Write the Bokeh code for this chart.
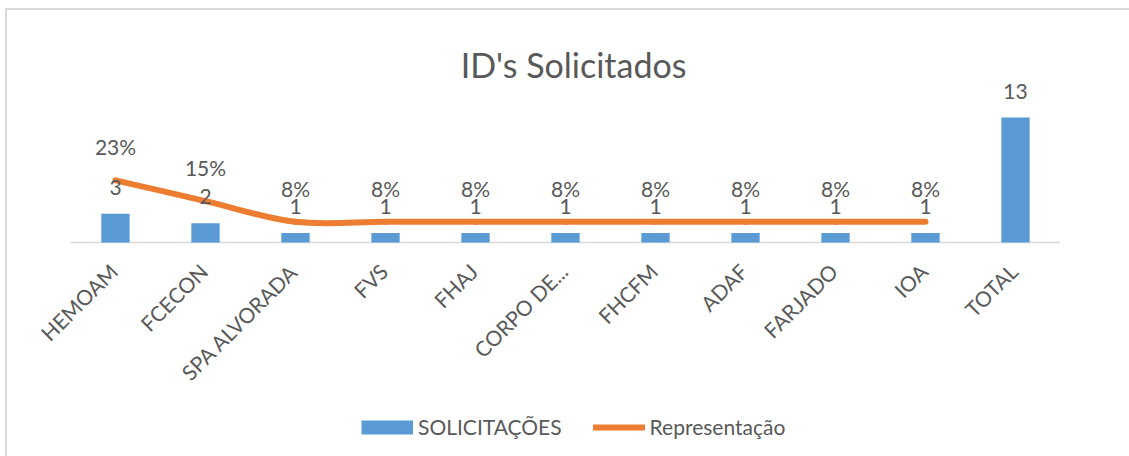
import math
from bokeh.plotting import figure
from bokeh.models import (Range1d, ColumnDataSource, LabelSet, Label,
                          Legend, LegendItem)
from bokeh.embed import file_html
from bokeh.resources import INLINE
from bokeh.core.properties import value

# ---------------- data ----------------
categories = ["HEMOAM", "FCECON", "SPA ALVORADA", "FVS", "FHAJ", "CORPO DE...",
              "FHCFM", "ADAF", "FARJADO", "IOA", "TOTAL"]
solicitacoes = [3, 2, 1, 1, 1, 1, 1, 1, 1, 1, 13]
representacao = [0.2308, 0.1538, 0.0769, 0.0769, 0.0769, 0.0769, 0.0769, 0.0769, 0.0769, 0.0769]
rep_labels = ["23%", "15%", "8%", "8%", "8%", "8%", "8%", "8%", "8%", "8%"]
title_text = "ID's Solicitados"
legend_labels = ["SOLICITAÇÕES", "Representação"]

FONT = "Lato"
TXT = "#595959"
BLUE = "#5B9BD5"
ORANGE = "#ED7D31"
NAN = float("nan")

xs = [i + 0.5 for i in range(len(categories))]

p = figure(frame_width=1053, frame_height=446,
           min_border_left=0, min_border_right=69, min_border_top=0, min_border_bottom=0,
           x_range=Range1d(-0.7, len(categories)), y_range=Range1d(-22.26, 24.13),
           x_axis_location=None, y_axis_location=None,
           output_backend="svg", toolbar_location=None)
p.extra_y_ranges = {"pct": Range1d(-0.795, 0.862)}
p.styles = {"border-top": "2px solid #d9d9d9", "border-left": "2px solid #d9d9d9",
            "margin-top": "8px", "margin-left": "5px"}

p.background_fill_color = "white"
p.border_fill_color = "white"
p.outline_line_color = None
p.grid.visible = False

# category axis line (baseline of the bars)
p.segment(x0=[0], y0=[0], x1=[len(categories)], y1=[0], line_color="#d9d9d9", line_width=1.5)

# bars
bar_src = ColumnDataSource(dict(x=xs, top=solicitacoes, lab=[str(v) for v in solicitacoes]))
bars = p.vbar(x="x", top="top", bottom=0, width=0.315, source=bar_src,
              fill_color=BLUE, line_color=None)

# smooth line (Catmull-Rom style bezier segments through the data points)
lx = xs[:len(representacao)]
ly = representacao
n = len(lx)
x0s, y0s, x1s, y1s, cx0, cy0, cx1, cy1 = [], [], [], [], [], [], [], []
for i in range(n - 1):
    pm = i - 1 if i > 0 else i
    pp = i + 2 if i + 2 < n else i + 1
    x0s.append(lx[i]); y0s.append(ly[i])
    x1s.append(lx[i + 1]); y1s.append(ly[i + 1])
    cx0.append(lx[i] + (lx[i + 1] - lx[pm]) / 6.0)
    cy0.append(ly[i] + (ly[i + 1] - ly[pm]) / 6.0)
    cx1.append(lx[i + 1] - (lx[pp] - lx[i]) / 6.0)
    cy1.append(ly[i + 1] - (ly[pp] - ly[i]) / 6.0)
bz_src = ColumnDataSource(dict(x0=x0s, y0=y0s, x1=x1s, y1=y1s, cx0=cx0, cy0=cy0, cx1=cx1, cy1=cy1))
p.bezier(x0="x0", y0="y0", x1="x1", y1="y1", cx0="cx0", cy0="cy0", cx1="cx1", cy1="cy1",
         source=bz_src, line_color=ORANGE, line_width=6, line_cap="round",
         y_range_name="pct")

# legend proxies (one NaN point: nothing drawn in the plot, only the legend swatch)
legend_bar = p.line(x=[NAN], y=[NAN], line_color=BLUE, line_width=14, line_cap="butt")
legend_line = p.line(x=[NAN], y=[NAN], line_color=ORANGE, line_width=6, line_cap="round",
                     y_range_name="pct")

# data labels
p.add_layout(LabelSet(x="x", y="top", text="lab", source=bar_src, y_offset=19,
                      text_align="center", text_baseline="alphabetic",
                      text_font=value(FONT), text_font_size="21px", text_color=TXT))
pct_src = ColumnDataSource(dict(x=lx, y=ly, lab=rep_labels))
p.add_layout(LabelSet(x="x", y="y", text="lab", source=pct_src, y_offset=25,
                      y_range_name="pct",
                      text_align="center", text_baseline="alphabetic",
                      text_font=value(FONT), text_font_size="21px", text_color=TXT))

# category labels, rotated 45 degrees under the baseline
cat_src = ColumnDataSource(dict(x=xs, y=[-2.59] * len(xs), lab=categories))
p.text(x="x", y="y", text="lab", source=cat_src, angle=math.pi / 4, x_offset=-2,
       text_align="right", text_baseline="middle",
       text_font=value(FONT), text_font_size="21px", text_color=TXT)

# title
p.add_layout(Label(x=5.59, y=18.5, text=title_text, text_align="center",
                   text_baseline="alphabetic", text_font=FONT, text_font_size="34px",
                   text_color=TXT))

# legend
lg = Legend(items=[LegendItem(label=legend_labels[0], renderers=[legend_bar]),
                   LegendItem(label=legend_labels[1], renderers=[legend_line])],
            location=(354, 17), orientation="horizontal",
            glyph_width=52, glyph_height=16, label_standoff=5, padding=0, margin=0,
            spacing=31, border_line_color=None, background_fill_alpha=0,
            label_text_font=FONT, label_text_font_size="21px", label_text_color=TXT)
p.add_layout(lg, "center")

open("out.html", "w").write(file_html(p, INLINE))
